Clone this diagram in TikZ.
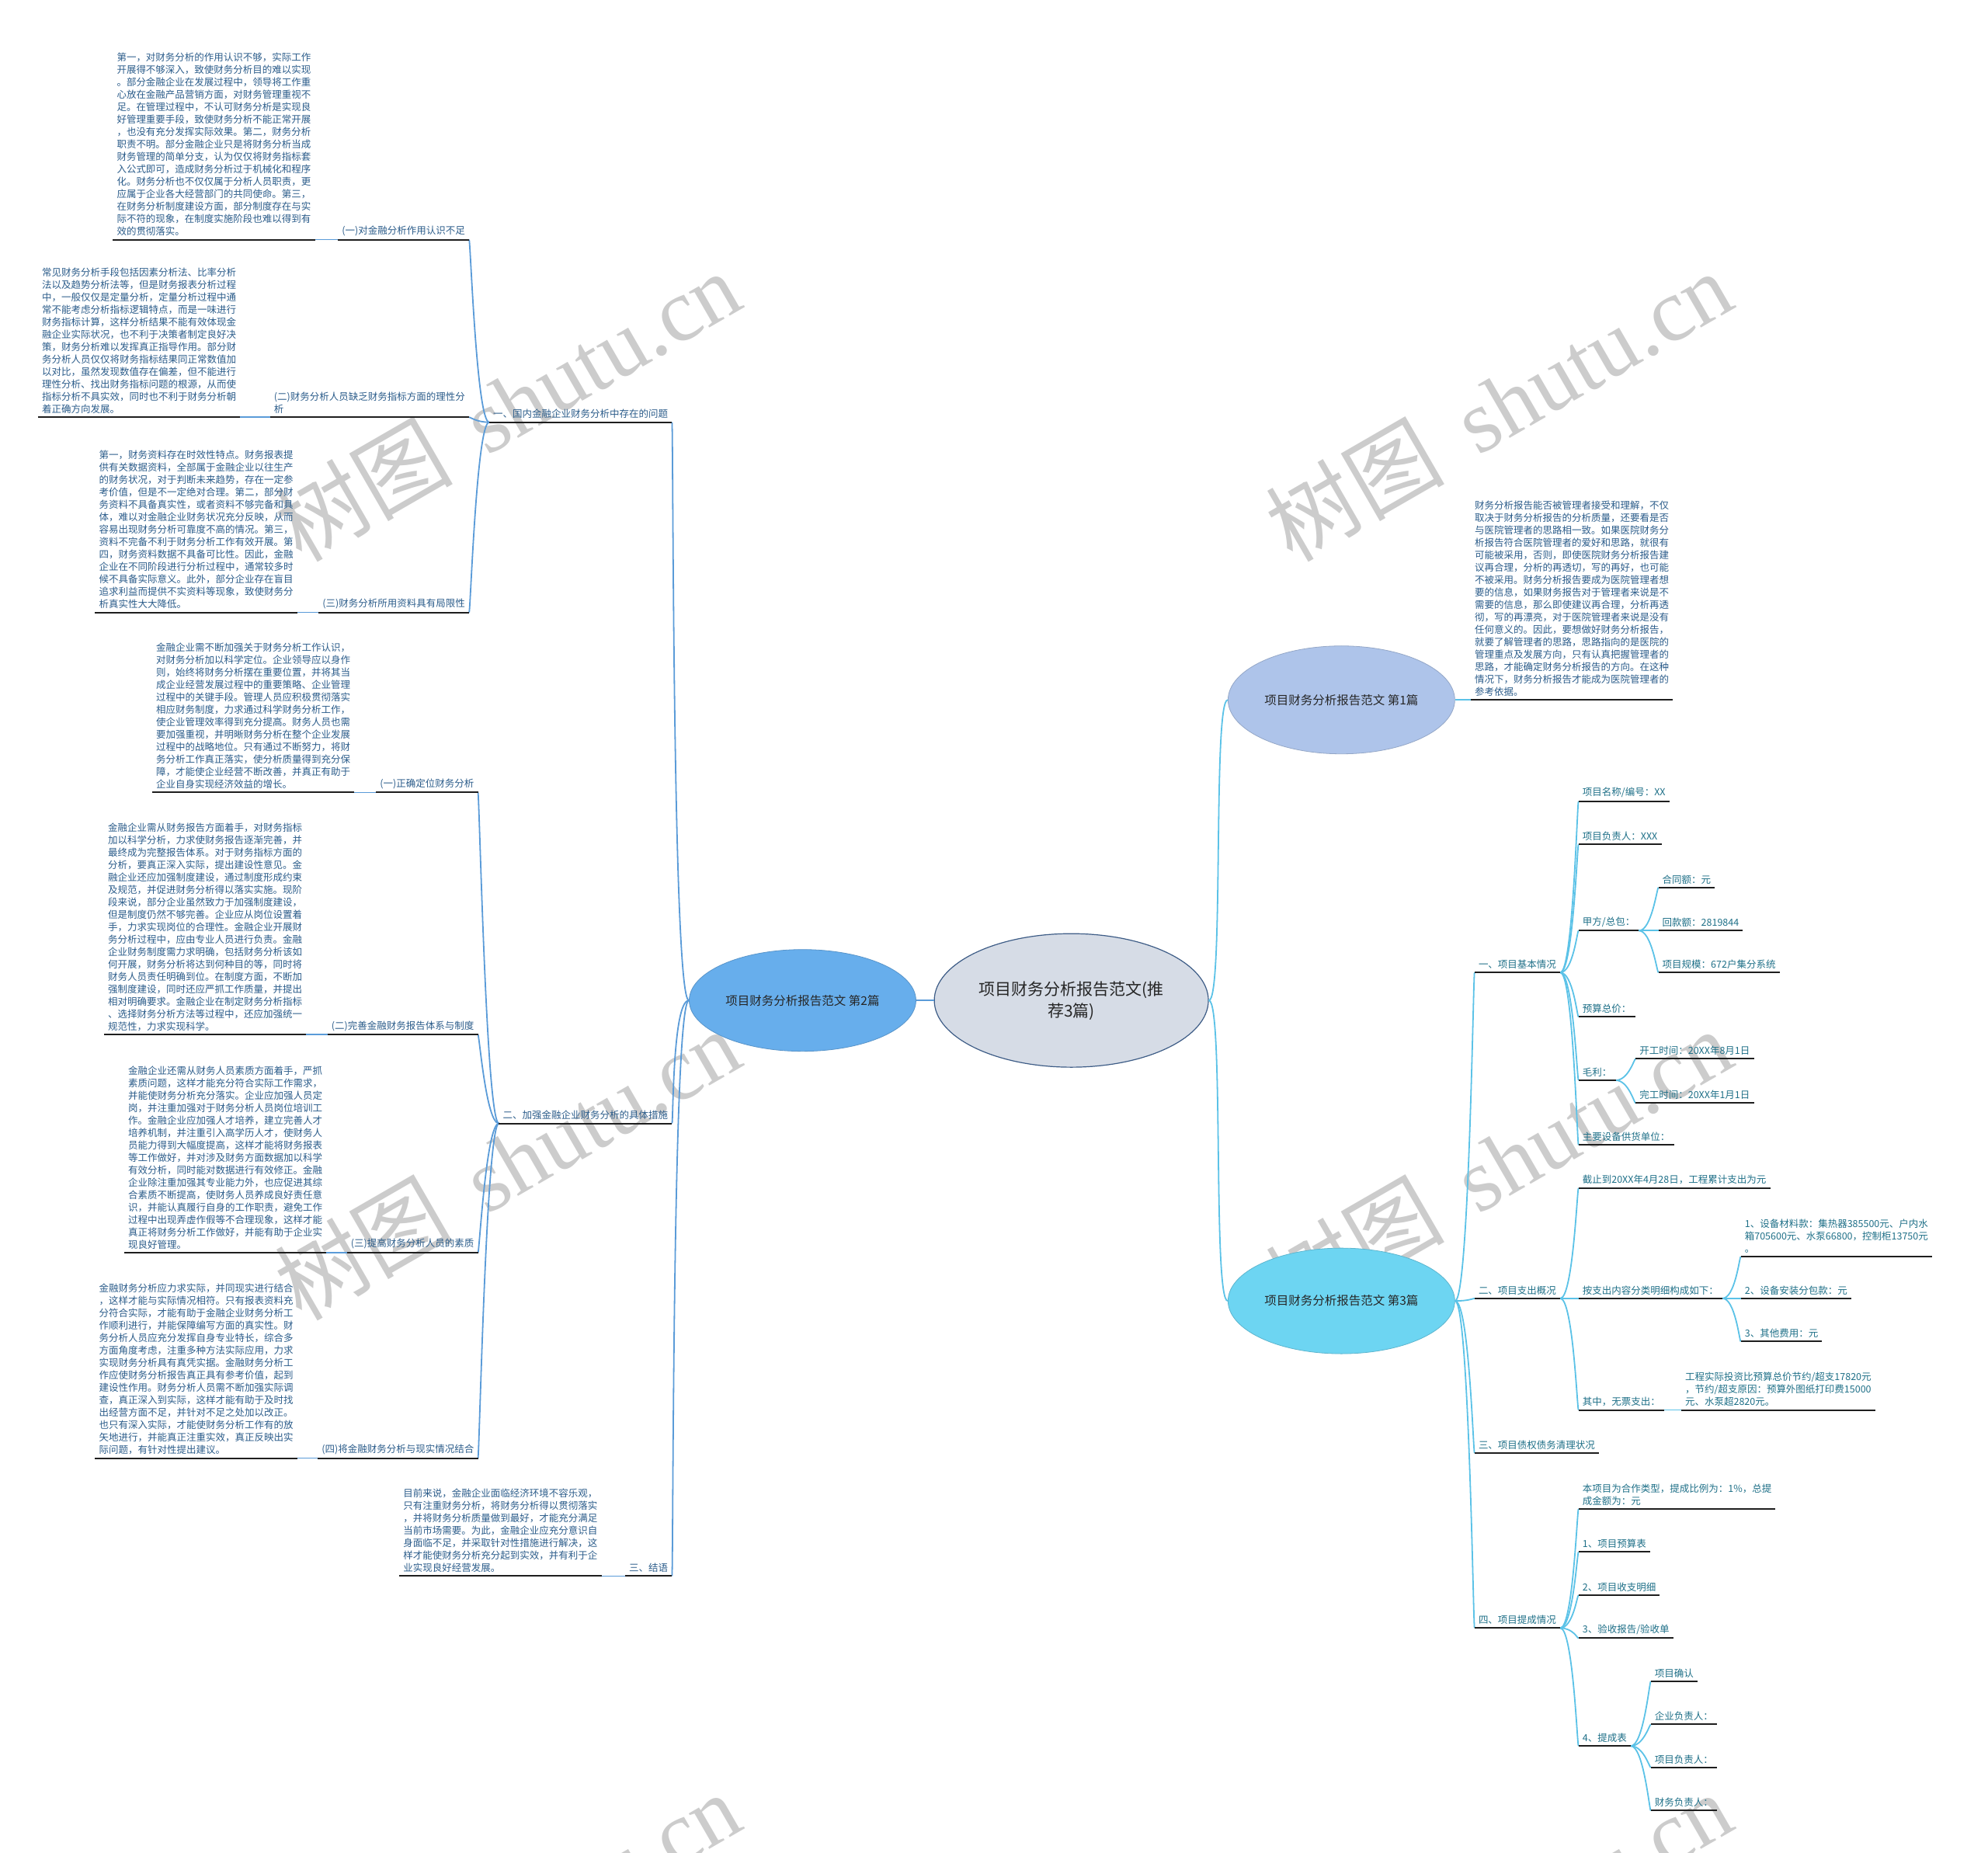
\documentclass[tikz,border=0pt]{standalone}
\usepackage{fontspec}
\usepackage{xcolor}
\usetikzlibrary{shapes.geometric}
\newfontfamily\cjk{Noto Sans CJK SC}
\newfontfamily\wmlatin{Liberation Serif}
\definecolor{lefttext}{HTML}{2B5C8A}
\definecolor{righttext}{HTML}{1E6F87}
\definecolor{leftline}{HTML}{5A9BD8}
\definecolor{rightline}{HTML}{5BC2E7}
\definecolor{underc}{HTML}{1E1E1E}
\definecolor{rootfill}{HTML}{D6DCE6}
\definecolor{rootdraw}{HTML}{3D5C86}
\definecolor{onefill}{HTML}{AEC4EA}
\definecolor{twofill}{HTML}{67AEEC}
\definecolor{threefill}{HTML}{6DD5F2}
\tikzset{
	item/.style={inner xsep=5pt, inner ysep=4.5pt, align=left, font=\cjk\fontsize{12.5}{16}\selectfont},
	litem/.style={item, text=lefttext, anchor=south east},
	lbody/.style={item, text=lefttext, anchor=south west},
	ritem/.style={item, text=righttext, anchor=south west},
	rbody/.style={item, text=lefttext, anchor=south west},
	under/.style={draw=underc, line width=2pt},
	lwire/.style={draw=leftline, line width=1.8pt},
	rwire/.style={draw=rightline, line width=1.8pt},
	topic/.style={ellipse, line width=0.8pt, minimum width=292pt, text=black!85, font=\cjk\fontsize{15.5}{20}\selectfont},
	wmark/.style={rotate=30, text=black!20, font=\fontsize{115}{115}\selectfont},
}

\begin{document}
\begin{tikzpicture}[x=1.633pt, y=-1.633pt]
	\useasboundingbox (0,0) rectangle (1568,1461);
	\begin{scope}
		\clip (0,0) rectangle (1568,1461);
		\foreach \x in {400,1182}
			\foreach \y in {320,918,1520}
				\node [wmark] at (\x,\y) {{\cjk 树图}\hspace{0.4em}{\wmlatin shutu.cn}};
	\end{scope}
	%
	\node [ellipse, draw=rootdraw, line width=1.2pt, fill=rootfill, minimum width=353pt, minimum height=172pt, align=center, text=black!85, font=\cjk\fontsize{21}{28}\selectfont] (root) at (845,789) {项目财务分析报告范文(推\\荐3篇)};
	\node [topic, draw=twofill!85!black, fill=twofill, minimum height=131pt] (p2) at (633,789) {项目财务分析报告范文 第2篇};
	\node [topic, draw=onefill!85!black, fill=onefill, minimum height=139pt] (p1) at (1058,552) {项目财务分析报告范文 第1篇};
	\node [topic, draw=threefill!85!black, fill=threefill, minimum height=136pt] (p3) at (1058,1026) {项目财务分析报告范文 第3篇};
	%
	\node [litem] (A) at (530,333) {一、国内金融企业财务分析中存在的问题};
	\node [litem] (a1) at (370,189) {(一)对金融分析作用认识不足};
	\node [lbody] (a1t) at (89,189) {第一，对财务分析的作用认识不够，实际工作\\开展得不够深入，致使财务分析目的难以实现\\。部分金融企业在发展过程中，领导将工作重\\心放在金融产品营销方面，对财务管理重视不\\足。在管理过程中，不认可财务分析是实现良\\好管理重要手段，致使财务分析不能正常开展\\，也没有充分发挥实际效果。第二，财务分析\\职责不明。部分金融企业只是将财务分析当成\\财务管理的简单分支，认为仅仅将财务指标套\\入公式即可，造成财务分析过于机械化和程序\\化。财务分析也不仅仅属于分析人员职责，更\\应属于企业各大经营部门的共同使命。第三，\\在财务分析制度建设方面，部分制度存在与实\\际不符的现象，在制度实施阶段也难以得到有\\效的贯彻落实。};
	\node [litem] (a2) at (370,329) {(二)财务分析人员缺乏财务指标方面的理性分\\析};
	\node [lbody] (a2t) at (30,329) {常见财务分析手段包括因素分析法、比率分析\\法以及趋势分析法等，但是财务报表分析过程\\中，一般仅仅是定量分析，定量分析过程中通\\常不能考虑分析指标逻辑特点，而是一味进行\\财务指标计算，这样分析结果不能有效体现金\\融企业实际状况，也不利于决策者制定良好决\\策，财务分析难以发挥真正指导作用。部分财\\务分析人员仅仅将财务指标结果同正常数值加\\以对比，虽然发现数值存在偏差，但不能进行\\理性分析、找出财务指标问题的根源，从而使\\指标分析不具实效，同时也不利于财务分析朝\\着正确方向发展。};
	\node [litem] (a3) at (370,483) {(三)财务分析所用资料具有局限性};
	\node [lbody] (a3t) at (75,483) {第一，财务资料存在时效性特点。财务报表提\\供有关数据资料，全部属于金融企业以往生产\\的财务状况，对于判断未来趋势，存在一定参\\考价值，但是不一定绝对合理。第二，部分财\\务资料不具备真实性，或者资料不够完备和具\\体，难以对金融企业财务状况充分反映，从而\\容易出现财务分析可靠度不高的情况。第三，\\资料不完备不利于财务分析工作有效开展。第\\四，财务资料数据不具备可比性。因此，金融\\企业在不同阶段进行分析过程中，通常较多时\\候不具备实际意义。此外，部分企业存在盲目\\追求利益而提供不实资料等现象，致使财务分\\析真实性大大降低。};
	%
	\node [litem] (B) at (530,886) {二、加强金融企业财务分析的具体措施};
	\node [litem] (b1) at (377,625) {(一)正确定位财务分析};
	\node [lbody] (b1t) at (120,625) {金融企业需不断加强关于财务分析工作认识，\\对财务分析加以科学定位。企业领导应以身作\\则，始终将财务分析摆在重要位置，并将其当\\成企业经营发展过程中的重要策略、企业管理\\过程中的关键手段。管理人员应积极贯彻落实\\相应财务制度，力求通过科学财务分析工作，\\使企业管理效率得到充分提高。财务人员也需\\要加强重视，并明晰财务分析在整个企业发展\\过程中的战略地位。只有通过不断努力，将财\\务分析工作真正落实，使分析质量得到充分保\\障，才能使企业经营不断改善，并真正有助于\\企业自身实现经济效益的增长。};
	\node [litem] (b2) at (377,816) {(二)完善金融财务报告体系与制度};
	\node [lbody] (b2t) at (82,816) {金融企业需从财务报告方面着手，对财务指标\\加以科学分析，力求使财务报告逐渐完善，并\\最终成为完整报告体系。对于财务指标方面的\\分析，要真正深入实际，提出建设性意见。金\\融企业还应加强制度建设，通过制度形成约束\\及规范，并促进财务分析得以落实实施。现阶\\段来说，部分企业虽然致力于加强制度建设，\\但是制度仍然不够完善。企业应从岗位设置着\\手，力求实现岗位的合理性。金融企业开展财\\务分析过程中，应由专业人员进行负责。金融\\企业财务制度需力求明确，包括财务分析该如\\何开展，财务分析将达到何种目的等，同时将\\财务人员责任明确到位。在制度方面，不断加\\强制度建设，同时还应严抓工作质量，并提出\\相对明确要求。金融企业在制定财务分析指标\\、选择财务分析方法等过程中，还应加强统一\\规范性，力求实现科学。};
	\node [litem] (b3) at (377,988) {(三)提高财务分析人员的素质};
	\node [lbody] (b3t) at (98,988) {金融企业还需从财务人员素质方面着手，严抓\\素质问题，这样才能充分符合实际工作需求，\\并能使财务分析充分落实。企业应加强人员定\\岗，并注重加强对于财务分析人员岗位培训工\\作。金融企业应加强人才培养，建立完善人才\\培养机制，并注重引入高学历人才，使财务人\\员能力得到大幅度提高，这样才能将财务报表\\等工作做好，并对涉及财务方面数据加以科学\\有效分析，同时能对数据进行有效修正。金融\\企业除注重加强其专业能力外，也应促进其综\\合素质不断提高，使财务人员养成良好责任意\\识，并能认真履行自身的工作职责，避免工作\\过程中出现弄虚作假等不合理现象，这样才能\\真正将财务分析工作做好，并能有助于企业实\\现良好管理。};
	\node [litem] (b4) at (377,1150) {(四)将金融财务分析与现实情况结合};
	\node [lbody] (b4t) at (75,1150) {金融财务分析应力求实际，并同现实进行结合\\，这样才能与实际情况相符。只有报表资料充\\分符合实际，才能有助于金融企业财务分析工\\作顺利进行，并能保障编写方面的真实性。财\\务分析人员应充分发挥自身专业特长，综合多\\方面角度考虑，注重多种方法实际应用，力求\\实现财务分析具有真凭实据。金融财务分析工\\作应使财务分析报告真正具有参考价值，起到\\建设性作用。财务分析人员需不断加强实际调\\查，真正深入到实际，这样才能有助于及时找\\出经营方面不足，并针对不足之处加以改正。\\也只有深入实际，才能使财务分析工作有的放\\矢地进行，并能真正注重实效，真正反映出实\\际问题，有针对性提出建议。};
	%
	\node [litem] (C) at (530,1243) {三、结语};
	\node [lbody] (Ct) at (315,1243) {目前来说，金融企业面临经济环境不容乐观，\\只有注重财务分析，将财务分析得以贯彻落实\\，并将财务分析质量做到最好，才能充分满足\\当前市场需要。为此，金融企业应充分意识自\\身面临不足，并采取针对性措施进行解决，这\\样才能使财务分析充分起到实效，并有利于企\\业实现良好经营发展。};
	%
	\node [rbody] (r1) at (1160,552) {财务分析报告能否被管理者接受和理解，不仅\\取决于财务分析报告的分析质量，还要看是否\\与医院管理者的思路相一致。如果医院财务分\\析报告符合医院管理者的爱好和思路，就很有\\可能被采用，否则，即使医院财务分析报告建\\议再合理，分析的再透切，写的再好，也可能\\不被采用。财务分析报告要成为医院管理者想\\要的信息，如果财务报告对于管理者来说是不\\需要的信息，那么即使建议再合理，分析再透\\彻，写的再漂亮，对于医院管理者来说是没有\\任何意义的。因此，要想做好财务分析报告，\\就要了解管理者的思路，思路指向的是医院的\\管理重点及发展方向，只有认真把握管理者的\\思路，才能确定财务分析报告的方向。在这种\\情况下，财务分析报告才能成为医院管理者的\\参考依据。};
	%
	\node [ritem] (s1) at (1163,767) {一、项目基本情况};
	\node [ritem] (s1a) at (1245,632) {项目名称/编号：XX};
	\node [ritem] (s1b) at (1245,666) {项目负责人：XXX};
	\node [ritem] (s1c) at (1245,734) {甲方/总包：};
	\node [ritem] (c1) at (1308,700) {合同额：元};
	\node [ritem] (c2) at (1308,734) {回款额：2819844};
	\node [ritem] (c3) at (1308,767) {项目规模：672户集分系统};
	\node [ritem] (s1d) at (1245,802) {预算总价：};
	\node [ritem] (s1e) at (1245,852) {毛利：};
	\node [ritem] (e1) at (1290,835) {开工时间：20XX年8月1日};
	\node [ritem] (e2) at (1290,870) {完工时间：20XX年1月1日};
	\node [ritem] (s1f) at (1245,903) {主要设备供货单位：};
	%
	\node [ritem] (s2) at (1163,1024) {二、项目支出概况};
	\node [ritem] (s2a) at (1245,937) {截止到20XX年4月28日，工程累计支出为元};
	\node [ritem] (s2b) at (1245,1024) {按支出内容分类明细构成如下：};
	\node [ritem] (d1) at (1373,991) {1、设备材料款：集热器385500元、户内水\\箱705600元、水泵66800，控制柜13750元\\。};
	\node [ritem] (d2) at (1373,1024) {2、设备安装分包款：元};
	\node [ritem] (d3) at (1373,1058) {3、其他费用：元};
	\node [ritem] (s2c) at (1245,1112) {其中，无票支出：};
	\node [ritem] (s2ct) at (1326,1112) {工程实际投资比预算总价节约/超支17820元\\，节约/超支原因：预算外图纸打印费15000\\元、水泵超2820元。};
	%
	\node [ritem] (s3) at (1163,1146) {三、项目债权债务清理状况};
	%
	\node [ritem] (s4) at (1163,1284) {四、项目提成情况};
	\node [ritem] (s4a) at (1245,1190) {本项目为合作类型，提成比例为：1\%，总提\\成金额为：元};
	\node [ritem] (s4b) at (1245,1224) {1、项目预算表};
	\node [ritem] (s4c) at (1245,1258) {2、项目收支明细};
	\node [ritem] (s4d) at (1245,1292) {3、验收报告/验收单};
	\node [ritem] (s4e) at (1245,1377) {4、提成表};
	\node [ritem] (f1) at (1302,1326) {项目确认};
	\node [ritem] (f2) at (1302,1360) {企业负责人：};
	\node [ritem] (f3) at (1302,1394) {项目负责人：};
	\node [ritem] (f4) at (1302,1428) {财务负责人：};
	%
	\draw [lwire] (root.west) -- (p2.east);
	\draw [rwire] (root.east) .. controls +(12,0) and +(-12,0) .. (p1.west);
	\draw [rwire] (root.east) .. controls +(12,0) and +(-12,0) .. (p3.west);
	\foreach \n in {A,B,C}
		\draw [lwire] (p2.west) .. controls +(-13,0) and +(1,0) .. (\n.south east);
	\foreach \n in {a1,a2,a3}
		\draw [lwire] (A.south west) .. controls +(-10,0) and +(1,0) .. (\n.south east);
	\foreach \n in {b1,b2,b3,b4}
		\draw [lwire] (B.south west) .. controls +(-10,0) and +(1,0) .. (\n.south east);
	\foreach \n in {a1,a2,a3,b1,b2,b3,b4,C}
		\draw [lwire] (\n t.south east) -- (\n.south west);
	\draw [rwire] (p1.east) -- (r1.south west);
	\foreach \n in {s1,s2,s3,s4}
		\draw [rwire] (p3.east) .. controls +(11,0) and +(-1,0) .. (\n.south west);
	\foreach \n in {s1a,s1b,s1c,s1d,s1e,s1f}
		\draw [rwire] (s1.south east) .. controls +(10,0) and +(-1,0) .. (\n.south west);
	\foreach \n in {c1,c2,c3}
		\draw [rwire] (s1c.south east) .. controls +(10,0) and +(-1,0) .. (\n.south west);
	\foreach \n in {e1,e2}
		\draw [rwire] (s1e.south east) .. controls +(10,0) and +(-1,0) .. (\n.south west);
	\foreach \n in {s2a,s2b,s2c}
		\draw [rwire] (s2.south east) .. controls +(10,0) and +(-1,0) .. (\n.south west);
	\foreach \n in {d1,d2,d3}
		\draw [rwire] (s2b.south east) .. controls +(10,0) and +(-1,0) .. (\n.south west);
	\draw [rwire] (s2c.south east) -- (s2ct.south west);
	\foreach \n in {s4a,s4b,s4c,s4d,s4e}
		\draw [rwire] (s4.south east) .. controls +(10,0) and +(-1,0) .. (\n.south west);
	\foreach \n in {f1,f2,f3,f4}
		\draw [rwire] (s4e.south east) .. controls +(10,0) and +(-1,0) .. (\n.south west);
	%
	\foreach \n in {A,a1,a1t,a2,a2t,a3,a3t,B,b1,b1t,b2,b2t,b3,b3t,b4,b4t,C,Ct,r1,s1,s1a,s1b,s1c,c1,c2,c3,s1d,s1e,e1,e2,s1f,s2,s2a,s2b,d1,d2,d3,s2c,s2ct,s3,s4,s4a,s4b,s4c,s4d,s4e,f1,f2,f3,f4}
		\draw [under] (\n.south west) -- (\n.south east);
\end{tikzpicture}
\end{document}
